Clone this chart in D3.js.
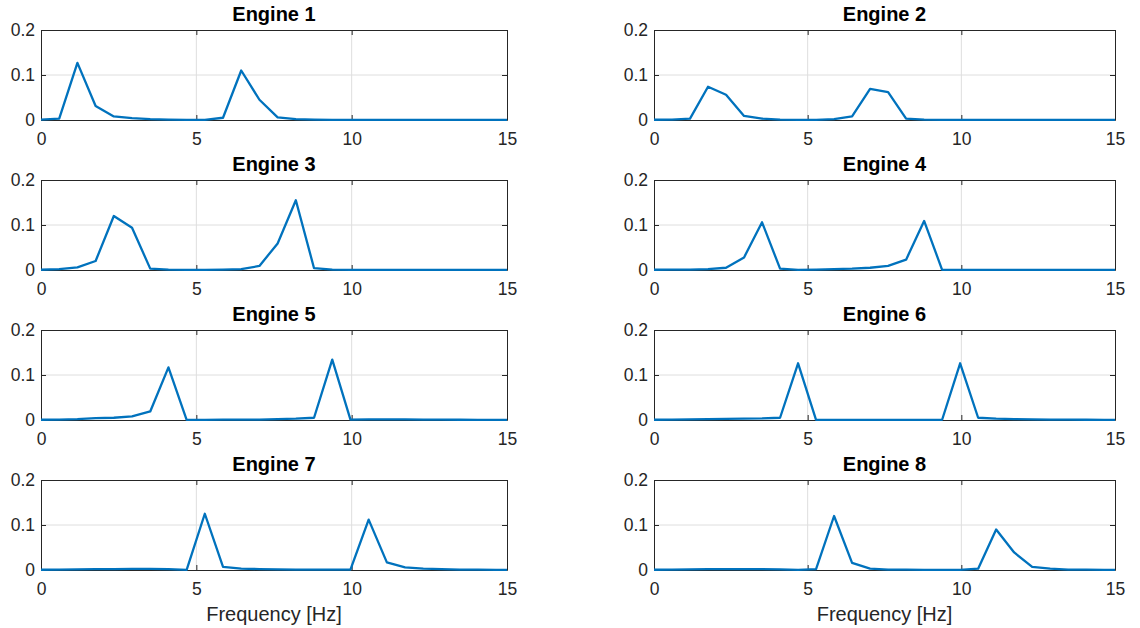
<!DOCTYPE html>
<html><head><meta charset="utf-8">
<script src="https://cdn.jsdelivr.net/npm/d3@7"></script>
<style>html,body{margin:0;padding:0;background:#fff;}svg{display:block;font-family:"Liberation Sans",Arial,Helvetica,sans-serif;}</style>
</head><body>
<svg id="c" width="1140" height="628"></svg>
<script>
const freqs = [0, 0.586, 1.172, 1.758, 2.344, 2.930, 3.516, 4.102, 4.688, 5.273, 5.859, 6.445, 7.031, 7.617, 8.203, 8.789, 9.375, 9.961, 10.547, 11.133, 11.719, 12.305, 12.891, 13.477, 14.063, 14.648, 15.234];
const titles = ["Engine 1","Engine 2","Engine 3","Engine 4","Engine 5","Engine 6","Engine 7","Engine 8"];
const engine1 = [0.001,0.003,0.127,0.031,0.008,0.004,0.002,0.001,0.0005,0.0005,0.005,0.110,0.045,0.006,0.002,0.001,0.0005,0.0005,0.0004,0.0004,0.0004,0.0003,0.0003,0.0003,0.0003,0.0003,0.0003];
const engine2 = [0.0005,0.001,0.003,0.074,0.056,0.009,0.003,0.001,0.0005,0.0005,0.002,0.008,0.069,0.062,0.003,0.001,0.0005,0.0005,0.0004,0.0004,0.0004,0.0003,0.0003,0.0003,0.0003,0.0003,0.0003];
const engine3 = [0.0005,0.002,0.006,0.020,0.120,0.094,0.003,0.0008,0.0005,0.0005,0.001,0.002,0.009,0.059,0.155,0.004,0.0008,0.0005,0.0005,0.0005,0.0005,0.0004,0.0004,0.0004,0.0003,0.0003,0.0003];
const engine4 = [0.0005,0.0008,0.001,0.002,0.005,0.028,0.106,0.003,0.0005,0.001,0.002,0.003,0.005,0.009,0.023,0.109,0.0005,0.0005,0.0005,0.0005,0.0004,0.0004,0.0004,0.0003,0.0003,0.0003,0.0003];
const engine5 = [0.0005,0.001,0.002,0.004,0.005,0.008,0.019,0.117,0.0003,0.0005,0.0007,0.001,0.001,0.002,0.003,0.005,0.134,0.001,0.0015,0.0015,0.0012,0.001,0.0008,0.0006,0.0005,0.0005,0.0005];
const engine6 = [0.0005,0.001,0.0015,0.002,0.0025,0.003,0.0035,0.005,0.126,0.0003,0.0005,0.0005,0.0005,0.0005,0.0005,0.0005,0.0005,0.126,0.005,0.003,0.002,0.0015,0.001,0.0008,0.0006,0.0005,0.0005];
const engine7 = [0.0005,0.001,0.0015,0.002,0.002,0.0025,0.0025,0.002,0.0003,0.125,0.007,0.003,0.002,0.0015,0.001,0.001,0.0008,0.001,0.112,0.017,0.006,0.003,0.002,0.001,0.0008,0.0005,0.0005];
const engine8 = [0.0005,0.001,0.0015,0.002,0.002,0.002,0.0018,0.0012,0.0005,0.002,0.120,0.016,0.003,0.001,0.0008,0.0005,0.0005,0.0005,0.003,0.090,0.039,0.007,0.003,0.001,0.0008,0.0005,0.0005];
const series = [engine1, engine2, engine3, engine4, engine5, engine6, engine7, engine8];
const xTicks = [0, 5, 10, 15];
const yTicks = [0, 0.1, 0.2];
const xLabel = "Frequency [Hz]";

const svg = d3.select("#c");
const cols = [{l:41, r:507}, {l:654, r:1115}];
const rowTops = [30, 180, 330, 480];
const ph = 90;
const axisColor = "#262626";
const tickLen = 5;

series.forEach((vals, i) => {
  const c = cols[i % 2], top = rowTops[Math.floor(i / 2)];
  const x = d3.scaleLinear().domain([0, 15]).range([c.l, c.r]);
  const y = d3.scaleLinear().domain([0, 0.2]).range([top + ph, top]);
  const g = svg.append("g");
  const id = "clip" + i;
  svg.append("clipPath").attr("id", id).append("rect")
    .attr("x", c.l).attr("y", top - 2).attr("width", c.r - c.l).attr("height", ph + 4);
  // grid
  g.append("g").selectAll("line").data(xTicks.slice(1, -1)).join("line")
    .attr("x1", d => x(d)).attr("x2", d => x(d)).attr("y1", top).attr("y2", top + ph)
    .attr("stroke", "#dedede").attr("stroke-width", 1);
  g.append("g").selectAll("line").data(yTicks.slice(1, -1)).join("line")
    .attr("y1", d => y(d)).attr("y2", d => y(d)).attr("x1", c.l).attr("x2", c.r)
    .attr("stroke", "#dedede").attr("stroke-width", 1);
  // axes
  const bottom = d3.axisBottom(x).tickValues(xTicks).tickSizeInner(-tickLen).tickSizeOuter(0).tickPadding(13).tickFormat(d3.format("d"));
  const gb = g.append("g").attr("transform", `translate(0,${top + ph})`).call(bottom);
  const topA = d3.axisTop(x).tickValues(xTicks).tickSizeInner(-tickLen).tickSizeOuter(0).tickFormat("");
  const gt = g.append("g").attr("transform", `translate(0,${top})`).call(topA);
  const left = d3.axisLeft(y).tickValues(yTicks).tickSizeInner(-tickLen).tickSizeOuter(0).tickPadding(6).tickFormat(d => d === 0 ? "0" : d3.format(".1f")(d));
  const gl = g.append("g").attr("transform", `translate(${c.l},0)`).call(left);
  const right = d3.axisRight(y).tickValues(yTicks).tickSizeInner(-tickLen).tickSizeOuter(0).tickFormat("");
  const gr = g.append("g").attr("transform", `translate(${c.r},0)`).call(right);
  [gb, gt, gl, gr].forEach(s => {
    s.select(".domain").attr("stroke", axisColor).attr("stroke-width", 1);
    s.selectAll(".tick line").attr("stroke", axisColor).attr("stroke-width", 1);
    s.selectAll(".tick text").attr("fill", axisColor).style("font-size", "17.5px").style("font-family", '"Liberation Sans",Arial,sans-serif');
  });
  gb.selectAll(".tick text").attr("dy", "0.71em");
  // line
  const line = d3.line().x((d, j) => x(freqs[j])).y(d => y(d));
  g.append("path").datum(vals).attr("d", line).attr("fill", "none")
    .attr("stroke", "#0072BD").attr("stroke-width", 2.3).attr("stroke-linejoin", "round")
    .attr("clip-path", `url(#${id})`);
  // title
  g.append("text").attr("x", (c.l + c.r) / 2).attr("y", top - 9).attr("text-anchor", "middle")
    .style("font-weight", "bold").style("font-size", "20px").attr("fill", "#000").text(titles[i]);
  if (Math.floor(i / 2) === 3) {
    g.append("text").attr("x", (c.l + c.r) / 2).attr("y", top + ph + 51).attr("text-anchor", "middle")
      .style("font-size", "20px").attr("fill", axisColor).text(xLabel);
  }
});
</script>
</body></html>
